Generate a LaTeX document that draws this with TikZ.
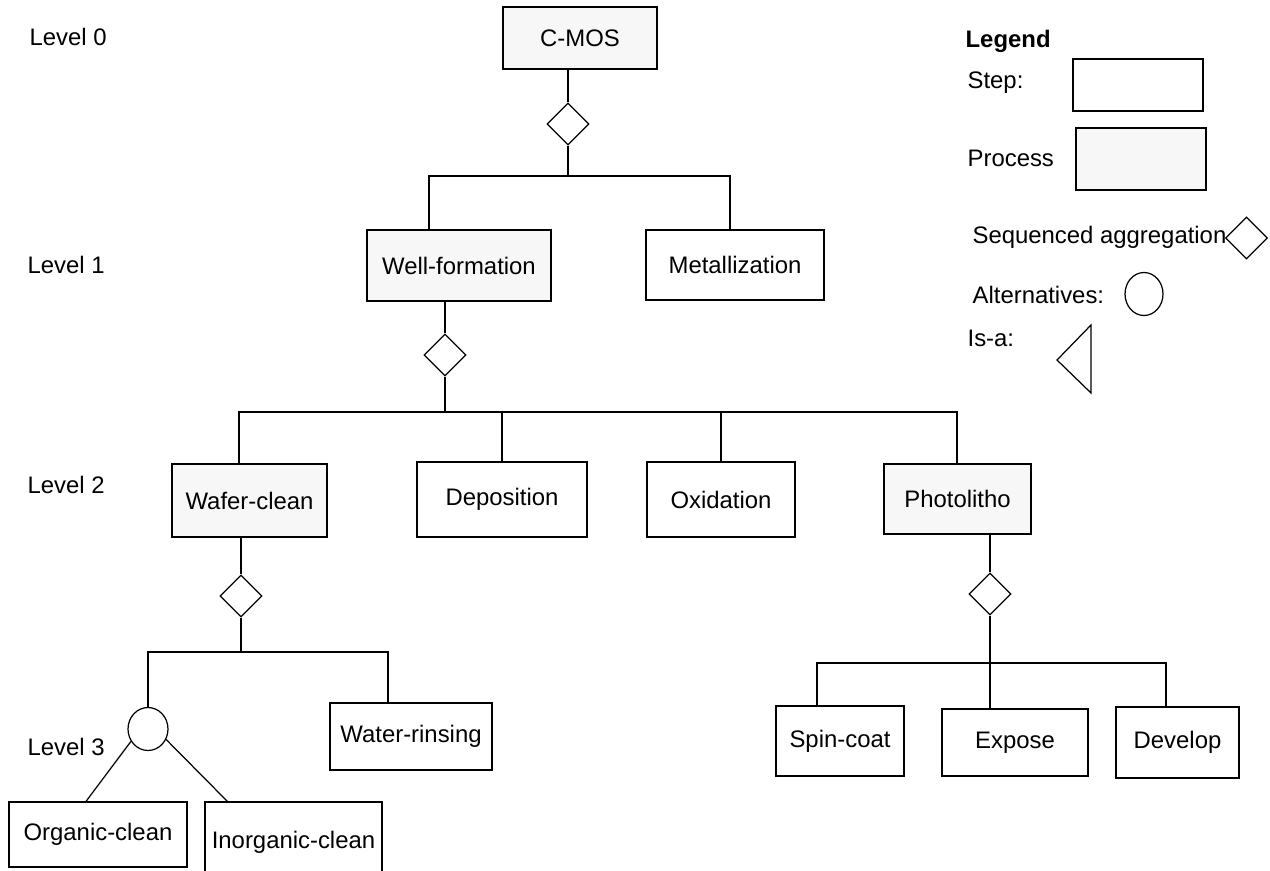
\documentclass[tikz,border=0pt]{standalone}
\usepackage{fontspec}
\setmainfont{Liberation Sans}
\usetikzlibrary{shapes.geometric}
\definecolor{procgray}{RGB}{247,247,247}
\tikzset{
  stepbox/.style 2 args={draw, minimum width=#1*0.02cm, minimum height=#2*0.02cm, inner sep=0pt},
  procbox/.style 2 args={stepbox={#1}{#2}, fill=procgray},
  seq/.style={draw, diamond, minimum width=0.84cm, minimum height=0.84cm, inner sep=0pt},
  alt/.style={draw, ellipse, minimum width=0.8cm, minimum height=0.86cm, inner sep=0pt},
  lvl/.style={anchor=west, inner sep=0pt}
}
\begin{document}
\begin{tikzpicture}[x=0.02cm, y=-0.02cm, line width=0.7pt, font=\fontsize{13.6}{16}\selectfont]
\useasboundingbox (0,0) rectangle (1270,871);
\node[lvl] (l0) at (29,37) {Level 0};
\node[lvl] (l1) at (27,265) {Level 1};
\node[lvl] (l2) at (27,485) {Level 2};
\node[lvl] (l3) at (27,747) {Level 3};

\node[procbox={154}{62}] (cmos) at (580,38) {C-MOS};
\node[seq] (d0) at (568,124) {};
\draw (d0 |- cmos.south) -- (d0.north);
\coordinate (j0) at (568,176);
\coordinate (j0l) at (429,176); \coordinate (j0r) at (730,176);
\draw (d0.south) -- (j0);
\node[procbox={184}{71}] (wf) at (459,265.5) {Well-formation};
\node[stepbox={178}{70}] (met) at (735,265) {Metallization};
\draw (j0l |- wf.north) -- (j0l) -- (j0r) -- (j0r |- met.north);

\node[seq] (d1) at (445,355) {};
\draw (d1 |- wf.south) -- (d1.north);
\coordinate (j1) at (445,412);
\coordinate (j1l) at (239,412); \coordinate (j1r) at (957,412);
\draw (d1.south) -- (j1);
\node[procbox={155}{73}] (wc) at (249.5,500.5) {Wafer-clean};
\node[stepbox={170}{75}] (dep) at (502,499.5) {Deposition};
\node[stepbox={148}{75}] (oxi) at (721,499.5) {Oxidation};
\node[procbox={147}{70}] (pho) at (957.5,499) {Photolitho};
\draw (j1l |- wc.north) -- (j1l) -- (j1r) -- (j1r |- pho.north);
\draw (dep.north |- j1) -- (dep.north);
\draw (oxi.north |- j1) -- (oxi.north);

\node[seq] (d2) at (241,596) {};
\draw (d2 |- wc.south) -- (d2.north);
\coordinate (j2) at (241,652);
\coordinate (j2l) at (148,652); \coordinate (j2r) at (388,652);
\draw (d2.south) -- (j2);
\node[alt] (alt) at (148,729) {};
\node[stepbox={162}{67}] (wr) at (411,736.5) {Water-rinsing};
\draw (alt.north) -- (j2l) -- (j2r) -- (j2r |- wr.north);
\node[stepbox={178}{65}] (org) at (98,834.5) {Organic-clean};
\node[stepbox={177}{80}] (inorg) at (293.5,842) {Inorganic-clean};
\draw (alt.216) -- ([xshift=-0.24cm]org.north);
\draw (alt.330) -- ([xshift=0.46cm]inorg.north west);

\node[seq] (d3) at (990,594) {};
\draw (d3 |- pho.south) -- (d3.north);
\coordinate (j3l) at (817,663); \coordinate (j3r) at (1166,663);
\node[stepbox={128}{70}] (spin) at (840,741) {Spin-coat};
\node[stepbox={146}{67}] (exp) at (1015,742.5) {Expose};
\node[stepbox={123}{71}] (dev) at (1177.5,742.5) {Develop};
\draw (d3.south) -- (d3 |- exp.north);
\draw (j3l |- spin.north) -- (j3l) -- (j3r) -- (j3r |- dev.north);

\node[lvl] (leg) at (965,41) {\textbf{Legend}};
\node[lvl] (lstep) at (967,83) {Step:};
\node[stepbox={130}{52}] (kstep) at (1138,85) {};
\node[lvl] (lproc) at (967,158) {Process};
\node[procbox={130}{62}] (kproc) at (1141,159) {};
\node[lvl] (lseq) at (972,237) {Sequenced aggregation};
\node[seq] (kseq) at (1246.5,238) {};
\node[lvl] (lalt) at (972,295) {Alternatives:};
\node[alt, minimum width=0.76cm] (kalt) at (1144,294) {};
\node[lvl] (lisa) at (967,338) {Is-a:};
\draw (1091,325) -- (1057,360) -- (1091,393) -- cycle;
\end{tikzpicture}
\end{document}
